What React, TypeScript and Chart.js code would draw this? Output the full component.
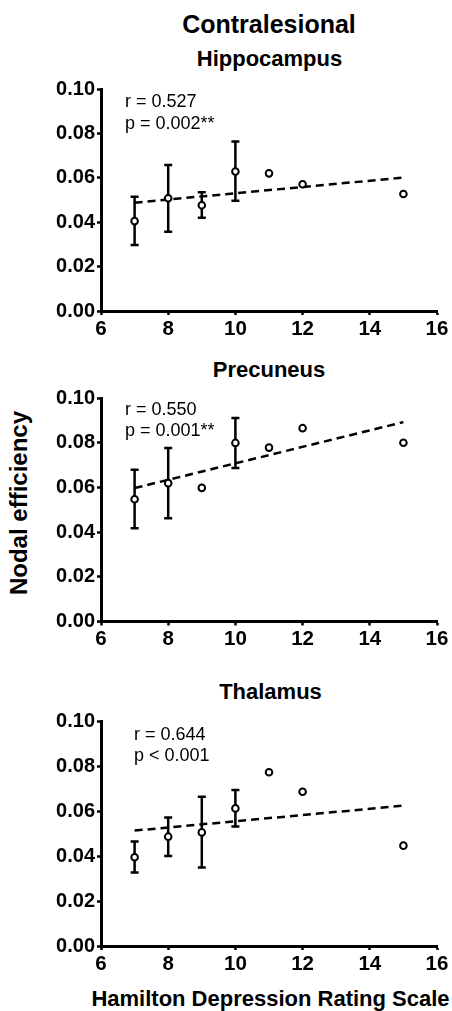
import React, { useEffect, useRef } from "react";
import { Chart, registerables } from "chart.js";

Chart.register(...registerables);

const FONT = "'Liberation Sans', Arial, Helvetica, sans-serif";

// Hamilton Depression Rating Scale (x)
const hamilton = [7, 8, 9, 10, 11, 12, 15];
const fitX = [7, 15];
const xTickValues = [6, 8, 10, 12, 14, 16];
const yTickValues = [0, 0.02, 0.04, 0.06, 0.08, 0.1];
const yTickLabels = ["0.00", "0.02", "0.04", "0.06", "0.08", "0.10"];

// Hippocampus
const hippoMean = [0.0405, 0.0508, 0.0476, 0.0628, 0.062, 0.0571, 0.0527];
const hippoUpper = [0.0515, 0.0658, 0.0535, 0.0763, null, null, null];
const hippoLower = [0.0297, 0.0357, 0.042, 0.0497, null, null, null];
const hippoFit = [0.0488, 0.0601];

// Precuneus
const precMean = [0.0547, 0.0619, 0.0598, 0.0799, 0.0778, 0.0865, 0.08];
const precUpper = [0.0679, 0.0776, null, 0.0911, null, null, null];
const precLower = [0.0417, 0.0462, null, 0.0687, null, null, null];
const precFit = [0.0597, 0.0892];

// Thalamus
const thalMean = [0.0395, 0.0487, 0.0506, 0.0613, 0.0774, 0.0687, 0.0447];
const thalUpper = [0.0465, 0.0572, 0.0665, 0.0695, null, null, null];
const thalLower = [0.0327, 0.0401, 0.035, 0.0532, null, null, null];
const thalFit = [0.0514, 0.0625];

const mainTitle = "Contralesional";
const regionNames = ["Hippocampus", "Precuneus", "Thalamus"];
const statR = ["r = 0.527", "r = 0.550", "r = 0.644"];
const statP = ["p = 0.002**", "p = 0.001**", "p < 0.001"];
const yTitle = "Nodal efficiency";
const xTitle = "Hamilton Depression Rating Scale";

type PanelProps = {
  mean: number[];
  upper: (number | null)[];
  lower: (number | null)[];
  fit: number[];
  rText: string;
  pText: string;
  top: number;
  padTop: number;
  axisH: number;
  height: number;
  textDx: number;
  textDy: number;
};

function Panel(props: PanelProps) {
  const ref = useRef<HTMLCanvasElement>(null);
  useEffect(() => {
    const { mean, upper, lower, fit, rText, pText, padTop, axisH, textDx, textDy } = props;
    const errorBars = {
      id: "errorBars",
      beforeDatasetsDraw(chart: any) {
        const ctx = chart.ctx;
        const xs = chart.scales.x;
        const ys = chart.scales.y;
        ctx.save();
        ctx.strokeStyle = "#000";
        ctx.lineWidth = 2.5;
        ctx.lineCap = "butt";
        hamilton.forEach((h, i) => {
          const u = upper[i];
          const l = lower[i];
          if (u == null || l == null) return;
          const px = xs.getPixelForValue(h);
          const pu = ys.getPixelForValue(u);
          const pl = ys.getPixelForValue(l);
          ctx.beginPath();
          ctx.moveTo(px, pu);
          ctx.lineTo(px, pl);
          ctx.moveTo(px - 4, pu);
          ctx.lineTo(px + 4, pu);
          ctx.moveTo(px - 4, pl);
          ctx.lineTo(px + 4, pl);
          ctx.stroke();
        });
        ctx.restore();
      },
    };
    const statText = {
      id: "statText",
      afterDraw(chart: any) {
        const ctx = chart.ctx;
        const a = chart.chartArea;
        ctx.save();
        ctx.fillStyle = "#000";
        ctx.font = `18px ${FONT}`;
        ctx.textAlign = "left";
        ctx.textBaseline = "alphabetic";
        ctx.fillText(rText, a.left + textDx, a.top + textDy);
        ctx.fillText(pText, a.left + textDx, a.top + textDy + 21.5);
        ctx.restore();
      },
    };
    const axisGrid = {
      display: true,
      drawOnChartArea: false,
      drawTicks: true,
      tickLength: 4,
      tickColor: "#000",
      tickWidth: 2.5,
    };
    const axisBorder = { display: true, color: "#000", width: 3 };
    const chart = new Chart(ref.current as HTMLCanvasElement, {
      type: "scatter",
      data: {
        datasets: [
          {
            type: "scatter",
            data: hamilton.map((h, i) => ({ x: h, y: mean[i] })),
            pointRadius: 3.3,
            pointBorderWidth: 2,
            pointBackgroundColor: "#fff",
            pointBorderColor: "#000",
            order: 1,
          } as any,
          {
            type: "line",
            data: fitX.map((x, i) => ({ x, y: fit[i] })),
            borderColor: "#000",
            borderWidth: 2.5,
            borderDash: [8, 5],
            pointRadius: 0,
            fill: false,
            order: 2,
          } as any,
        ],
      },
      options: {
        responsive: false,
        animation: false,
        devicePixelRatio: 1,
        layout: { padding: { top: padTop, right: 15, left: 0, bottom: 0 }, autoPadding: false },
        plugins: {
          legend: { display: false },
          tooltip: { enabled: false },
          title: { display: false },
        },
        scales: {
          x: {
            type: "linear",
            min: 6,
            max: 16,
            afterBuildTicks: (s: any) => {
              s.ticks = xTickValues.map((v) => ({ value: v }));
            },
            afterFit: (s: any) => {
              s.height = axisH;
            },
            grid: axisGrid,
            border: axisBorder,
            ticks: {
              color: "#000",
              font: { family: FONT, size: 20.5, weight: "bold" },
              padding: 2,
              maxRotation: 0,
              autoSkip: false,
              callback: (v: any) => String(v),
            },
          },
          y: {
            type: "linear",
            min: 0,
            max: 0.1,
            afterBuildTicks: (s: any) => {
              s.ticks = yTickValues.map((v) => ({ value: v }));
            },
            afterFit: (s: any) => {
              s.width = 101;
            },
            grid: axisGrid,
            border: axisBorder,
            ticks: {
              color: "#000",
              font: { family: FONT, size: 20, weight: "bold" },
              padding: 2,
              autoSkip: false,
              callback: (_v: any, i: number) => yTickLabels[i],
            },
          },
        },
      } as any,
      plugins: [errorBars, statText],
    });
    return () => chart.destroy();
  }, []);
  return (
    <canvas
      ref={ref}
      width={452}
      height={props.height}
      style={{ position: "absolute", left: 0, top: props.top, width: 452, height: props.height }}
    />
  );
}

function Label({ text, cx, baseline, size }: { text: string; cx: number; baseline: number; size: number }) {
  return (
    <div
      style={{
        position: "absolute",
        left: cx,
        top: baseline - 0.8465 * size,
        transform: "translateX(-50%)",
        fontFamily: FONT,
        fontWeight: "bold",
        fontSize: size,
        lineHeight: 1,
        whiteSpace: "nowrap",
        color: "#000",
      }}
    >
      {text}
    </div>
  );
}

export default function App() {
  return (
    <div
      style={{
        position: "absolute",
        left: 0,
        top: 0,
        width: 452,
        height: 1011,
        background: "#fff",
        overflow: "hidden",
      }}
    >
      <Label text={mainTitle} cx={269} baseline={33} size={25} />
      <Label text={regionNames[0]} cx={269.5} baseline={66.7} size={22} />
      <Label text={regionNames[1]} cx={269} baseline={377.3} size={22} />
      <Label text={regionNames[2]} cx={270.5} baseline={700} size={22} />
      <Label text={xTitle} cx={270.5} baseline={1006.5} size={22} />
      <div
        style={{
          position: "absolute",
          left: 19,
          top: 503,
          transform: "translate(-50%, -50%) rotate(-90deg)",
          fontFamily: FONT,
          fontWeight: "bold",
          fontSize: 24,
          lineHeight: 1,
          whiteSpace: "nowrap",
          color: "#000",
        }}
      >
        {yTitle}
      </div>
      <Panel
        mean={hippoMean}
        upper={hippoUpper}
        lower={hippoLower}
        fit={hippoFit}
        rText={statR[0]}
        pText={statP[0]}
        top={75}
        padTop={14}
        axisH={34}
        height={270}
        textDx={24}
        textDy={18}
      />
      <Panel
        mean={precMean}
        upper={precUpper}
        lower={precLower}
        fit={precFit}
        rText={statR[1]}
        pText={statP[1]}
        top={384}
        padTop={14}
        axisH={34.5}
        height={272}
        textDx={24}
        textDy={16.5}
      />
      <Panel
        mean={thalMean}
        upper={thalUpper}
        lower={thalLower}
        fit={thalFit}
        rText={statR[2]}
        pText={statP[2]}
        top={707}
        padTop={14.5}
        axisH={34}
        height={273}
        textDx={33}
        textDy={18}
      />
    </div>
  );
}
